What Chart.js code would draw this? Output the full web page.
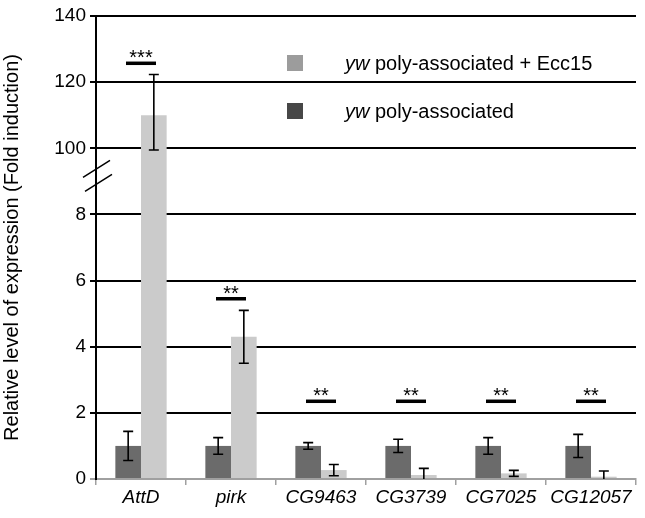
<!DOCTYPE html>
<html>
<head>
<meta charset="utf-8">
<script src="https://cdn.jsdelivr.net/npm/chart.js@4"></script>
<style>
html,body{margin:0;padding:0;background:#fff;}
#wrap{width:645px;height:518px;position:relative;}
</style>
</head>
<body>
<div id="wrap"><canvas id="c" width="645" height="518"></canvas></div>
<script>
const categories = ['AttD', 'pirk', 'CG9463', 'CG3739', 'CG7025', 'CG12057'];
const seriesNames = ['yw poly-associated', 'yw poly-associated + Ecc15'];
const controlValues = [1.0, 1.0, 1.0, 1.0, 1.0, 1.0];
const controlErrors = [0.44, 0.25, 0.1, 0.2, 0.25, 0.35];
const infectedValues = [110, 4.3, 0.27, 0.12, 0.17, 0.07];
const infectedErrors = [12.3, 0.8, 0.17, 0.2, 0.09, 0.17];
const sigLabels = ['***', '**', '**', '**', '**', '**'];
const sigHeights = [125.7, 5.45, 2.35, 2.35, 2.35, 2.35];
const yTickLabels = ['0', '2', '4', '6', '8', '100', '120', '140'];

// broken axis: 0-8 in 2-unit steps, then 100-140 in 20-unit steps
function toAxis(v) {
  if (v <= 8) return v / 2;
  if (v >= 100) return 5 + (v - 100) / 20;
  return 4 + (v - 8) / 92;
}

const FONT = 'Liberation Sans, Arial, sans-serif';

const overlay = {
  id: 'overlay',
  afterDatasetsDraw(chart) {
    const ctx = chart.ctx;
    const y = chart.scales.y;
    const x = chart.scales.x;
    ctx.save();
    // error bars
    const sets = [[controlValues, controlErrors], [infectedValues, infectedErrors]];
    sets.forEach((s, di) => {
      const meta = chart.getDatasetMeta(di);
      meta.data.forEach((bar, i) => {
        const v = s[0][i], e = s[1][i];
        const cx = bar.x;
        const top = y.getPixelForValue(toAxis(v + e));
        const lowV = v - e;
        const bot = y.getPixelForValue(toAxis(Math.max(lowV, 0)));
        ctx.strokeStyle = '#000';
        ctx.lineWidth = 1.6;
        ctx.beginPath();
        ctx.moveTo(cx, top); ctx.lineTo(cx, bot);
        ctx.moveTo(cx - 5, top); ctx.lineTo(cx + 5, top);
        if (lowV > 0.02) { ctx.moveTo(cx - 5, bot); ctx.lineTo(cx + 5, bot); }
        ctx.stroke();
      });
    });
    // significance marks
    categories.forEach((c, i) => {
      const cx = x.getPixelForValue(i);
      const py = y.getPixelForValue(toAxis(sigHeights[i]));
      ctx.strokeStyle = '#000';
      ctx.lineWidth = 3.5;
      ctx.beginPath();
      ctx.moveTo(cx - 15, py); ctx.lineTo(cx + 15, py);
      ctx.stroke();
      ctx.fillStyle = '#000';
      ctx.font = '20px ' + FONT;
      ctx.textAlign = 'center';
      ctx.textBaseline = 'alphabetic';
      ctx.fillText(sigLabels[i], cx, py + 1);
    });
    // axis break marks
    const ax = y.right;
    const by = (y.getPixelForValue(4) + y.getPixelForValue(5)) / 2;
    ctx.strokeStyle = '#000';
    ctx.lineWidth = 1.5;
    ctx.beginPath();
    ctx.moveTo(ax - 13, by - 4); ctx.lineTo(ax + 14, by - 21);
    ctx.moveTo(ax - 11, by + 10); ctx.lineTo(ax + 16, by - 7);
    ctx.stroke();
    // legend
    const legendItems = [
      {name: seriesNames[1], color: '#9c9c9c', y: 63},
      {name: seriesNames[0], color: '#474747', y: 111}
    ];
    legendItems.forEach(it => {
      ctx.fillStyle = it.color;
      ctx.fillRect(287, it.y - 8, 16, 16);
      ctx.fillStyle = '#000';
      ctx.textAlign = 'left';
      ctx.textBaseline = 'middle';
      const parts = it.name.split(' ');
      const first = parts.shift();
      ctx.font = 'italic 20px ' + FONT;
      ctx.fillText(first, 345, it.y + 1);
      const w = ctx.measureText(first + ' ').width;
      ctx.font = '20px ' + FONT;
      ctx.fillText(parts.join(' '), 345 + w, it.y + 1);
    });
    ctx.restore();
  }
};

new Chart(document.getElementById('c'), {
  type: 'bar',
  data: {
    labels: categories,
    datasets: [
      {label: seriesNames[0], data: controlValues.map(toAxis), backgroundColor: '#6b6b6b', barPercentage: 1.0, categoryPercentage: 0.57},
      {label: seriesNames[1], data: infectedValues.map(toAxis), backgroundColor: '#cbcbcb', barPercentage: 1.0, categoryPercentage: 0.57}
    ]
  },
  options: {
    responsive: false,
    animation: false,
    devicePixelRatio: 1,
    layout: {padding: {top: 16, right: 9, left: 0, bottom: 0}},
    plugins: {legend: {display: false}, tooltip: {enabled: false}},
    scales: {
      x: {
        grid: {display: true, drawOnChartArea: false, offset: true, color: '#a0a0a0', tickLength: 6, lineWidth: 1.5},
        border: {display: true, color: '#a0a0a0', width: 2},
        ticks: {color: '#000', font: {family: FONT, size: 19, style: 'italic'}, padding: 1},
        afterFit(s) { s.height = 39; }
      },
      y: {
        min: 0, max: 7,
        grid: {
          color: (c) => c.tick && c.tick.value === 0 ? '#a0a0a0' : '#000',
          lineWidth: 2, tickLength: 6
        },
        border: {display: true, color: '#000', width: 2},
        ticks: {
          stepSize: 1,
          color: '#000',
          font: {family: FONT, size: 19},
          padding: 4,
          callback: (v) => yTickLabels[v]
        },
        title: {display: true, text: 'Relative level of expression (Fold induction)', color: '#000', font: {family: FONT, size: 20}, padding: {top: 0, bottom: 2}},
        afterFit(s) { s.width = 96; }
      }
    }
  },
  plugins: [overlay]
});
</script>
</body>
</html>
